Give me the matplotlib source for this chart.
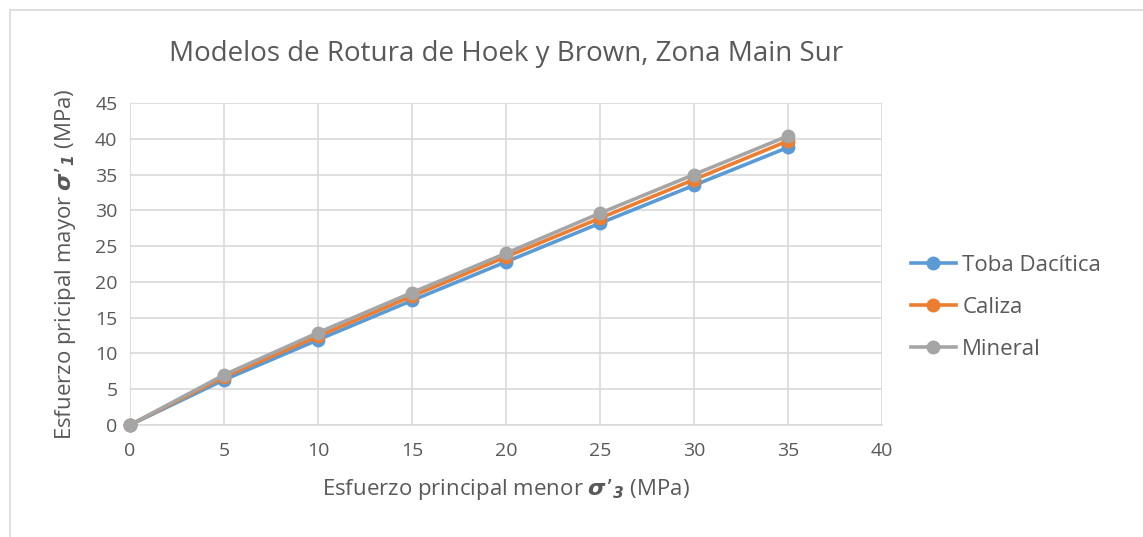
import matplotlib
matplotlib.use("Agg")
import matplotlib.pyplot as plt
from matplotlib.patches import Rectangle

plt.rcParams["font.family"] = ["Open Sans", "DejaVu Sans"]
plt.rcParams["mathtext.fontset"] = "dejavusans"

sigma3 = [0, 5, 10, 15, 20, 25, 30, 35]
toba = [0, 6.3, 11.9, 17.4, 22.8, 28.2, 33.5, 38.8]
caliza = [0, 6.7, 12.4, 18.0, 23.5, 28.9, 34.3, 39.7]
mineral = [0, 7.0, 12.9, 18.5, 24.0, 29.6, 35.0, 40.4]
series_names = ["Toba Dacítica", "Caliza", "Mineral"]
series_colors = ["#5B9BD5", "#ED7D31", "#A5A5A5"]
x_ticks = list(range(0, 45, 5))
y_ticks = list(range(0, 50, 5))

fig = plt.figure(figsize=(11.43, 5.37), dpi=100)
fig.patches.append(Rectangle((0.009, -0.01), 1.0, 0.992, transform=fig.transFigure,
                             fill=False, edgecolor="#D9D9D9", linewidth=1.2))
ax = fig.add_axes([0.1137, 0.2086, 0.658, 0.5996])

for values, name, color in zip([toba, caliza, mineral], series_names, series_colors):
    ax.plot(sigma3, values, color=color, linewidth=2.6, marker="o", markersize=9,
            label=name, clip_on=False, zorder=3)

ax.set_xlim(0, 40)
ax.set_ylim(0, 45)
ax.set_xticks(x_ticks)
ax.set_yticks(y_ticks)
ax.grid(True, color="#D9D9D9", linewidth=1.2)
ax.set_axisbelow(True)
for side in ["top", "right", "left"]:
    ax.spines[side].set_visible(False)
ax.spines["bottom"].set_color("#D9D9D9")
ax.spines["bottom"].set_linewidth(1.2)
ax.tick_params(length=0, labelsize=14, colors="#595959")
ax.tick_params(axis="x", pad=12)
ax.tick_params(axis="y", pad=9)

ax.set_title("Modelos de Rotura de Hoek y Brown, Zona Main Sur", fontsize=20,
             color="#595959", pad=30)
ax.set_xlabel(r"Esfuerzo principal menor $\mathbfit{\sigma’}_{\mathbfit{3}}$ (MPa)",
              fontsize=16, color="#595959", labelpad=12)
ax.set_ylabel(r"Esfuerzo pricipal mayor $\mathbfit{\sigma’}_{\mathbfit{1}}$ (MPa)",
              fontsize=16, color="#595959", labelpad=12)

ax.legend(loc="center left", bbox_to_anchor=(1.012, 0.365), frameon=False,
          fontsize=16, labelcolor="#595959", handlelength=2.0, labelspacing=0.95,
          handletextpad=0.3)

fig.savefig("out.png", dpi=100)
